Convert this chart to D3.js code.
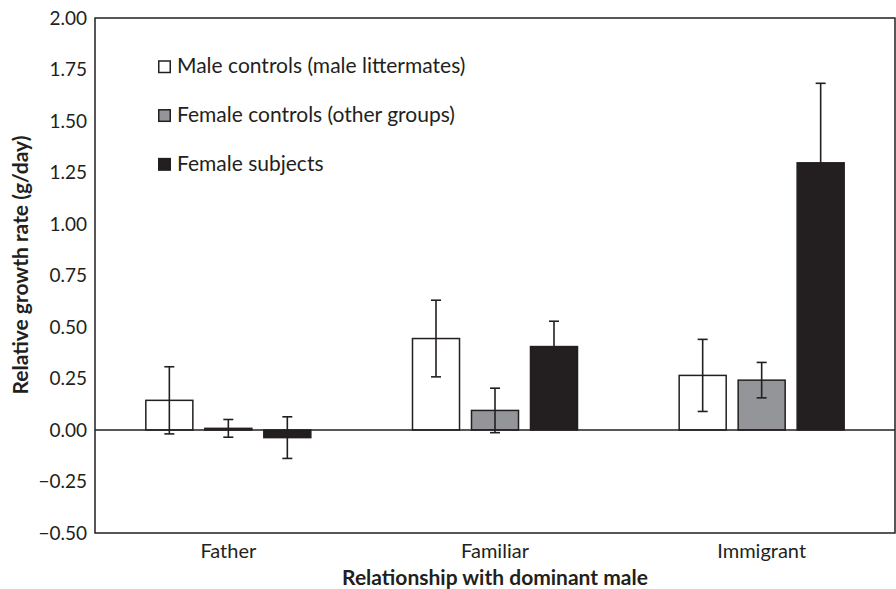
<!DOCTYPE html>
<html lang="en">
	<head>
		<meta charset="utf-8">
		<title>Relative growth rate</title>
		<style type="text/css">
			body { margin: 0; background: #fff; }
			text { font-family: Lato, "Open Sans", sans-serif; fill: #231f20; }
		</style>
	</head>
	<body>
		<script src="https://d3js.org/d3.v7.min.js"></script>
		<script>
			//Width and height
			var w = 896;
			var h = 589;
			var margin = { top: 18, right: 1, bottom: 56, left: 95 };

			var categories = ["Father", "Familiar", "Immigrant"];
			var series = ["Male controls (male littermates)", "Female controls (other groups)", "Female subjects"];
			var fills = ["#ffffff", "#939598", "#231f20"];

			//means and standard errors, one array per series
			var maleControls = [0.144, 0.444, 0.265];
			var maleControlsErr = [0.163, 0.186, 0.175];
			var femaleControls = [0.008, 0.095, 0.242];
			var femaleControlsErr = [0.043, 0.108, 0.086];
			var femaleSubjects = [-0.037, 0.405, 1.297];
			var femaleSubjectsErr = [0.101, 0.123, 0.386];

			var yTicks = [-0.5, -0.25, 0, 0.25, 0.5, 0.75, 1, 1.25, 1.5, 1.75, 2];

			var values = [maleControls, femaleControls, femaleSubjects];
			var errors = [maleControlsErr, femaleControlsErr, femaleSubjectsErr];

			var bars = [];
			categories.forEach(function(c, i) {
				series.forEach(function(s, j) {
					bars.push({ cat: c, s: j, v: values[j][i], e: errors[j][i] });
				});
			});

			var xScale = d3.scaleBand()
							.domain(categories)
							.range([margin.left, w - margin.right]);
			var groupW = 165;
			var xSub = d3.scaleBand()
							.domain(d3.range(series.length))
							.range([0, groupW])
							.paddingInner(0.203);
			var yScale = d3.scaleLinear()
							.domain([-0.5, 2])
							.range([h - margin.bottom, margin.top]);

			var svg = d3.select("body")
						.append("svg")
						.attr("width", w)
						.attr("height", h);

			function barX(d) {
				return xScale(d.cat) + (xScale.bandwidth() - groupW) / 2 + xSub(d.s);
			}

			//Bars
			svg.selectAll("rect.bar")
			   .data(bars)
			   .enter()
			   .append("rect")
			   .attr("class", "bar")
			   .attr("x", barX)
			   .attr("y", function(d) { return yScale(Math.max(0, d.v)); })
			   .attr("width", xSub.bandwidth())
			   .attr("height", function(d) { return Math.abs(yScale(d.v) - yScale(0)); })
			   .attr("fill", function(d) { return fills[d.s]; })
			   .attr("stroke", "#231f20")
			   .attr("stroke-width", 1.5);

			//Zero line
			svg.append("line")
			   .attr("x1", margin.left).attr("x2", w - margin.right)
			   .attr("y1", yScale(0)).attr("y2", yScale(0))
			   .attr("stroke", "#231f20")
			   .attr("stroke-width", 1.5);

			//Error bars
			var err = svg.selectAll("g.err")
			   .data(bars)
			   .enter()
			   .append("g")
			   .attr("class", "err")
			   .attr("stroke", "#231f20")
			   .attr("stroke-width", 1.6);
			err.append("line")
			   .attr("x1", function(d) { return barX(d) + xSub.bandwidth() / 2; })
			   .attr("x2", function(d) { return barX(d) + xSub.bandwidth() / 2; })
			   .attr("y1", function(d) { return yScale(d.v + d.e); })
			   .attr("y2", function(d) { return yScale(d.v - d.e); });
			[1, -1].forEach(function(sign) {
				err.append("line")
				   .attr("x1", function(d) { return barX(d) + xSub.bandwidth() / 2 - 5; })
				   .attr("x2", function(d) { return barX(d) + xSub.bandwidth() / 2 + 5; })
				   .attr("y1", function(d) { return yScale(d.v + sign * d.e); })
				   .attr("y2", function(d) { return yScale(d.v + sign * d.e); });
			});

			//Frame
			svg.append("rect")
			   .attr("x", margin.left)
			   .attr("y", margin.top)
			   .attr("width", w - margin.right - margin.left)
			   .attr("height", h - margin.bottom - margin.top)
			   .attr("fill", "none")
			   .attr("stroke", "#231f20")
			   .attr("stroke-width", 1.5);

			//Y axis labels
			var yAxis = d3.axisLeft(yScale)
						  .tickValues(yTicks)
						  .tickSize(0)
						  .tickPadding(8)
						  .tickFormat(function(d) { return d3.format(".2f")(d).replace("-", "\u2212"); });
			var gy = svg.append("g")
						.attr("transform", "translate(" + margin.left + ",0)")
						.call(yAxis);
			gy.select(".domain").remove();
			gy.selectAll("text")
			  .attr("font-family", "Lato")
			  .attr("font-size", "19px")
			  .attr("fill", "#231f20");

			//X axis labels
			var xAxis = d3.axisBottom(xScale).tickSize(0).tickPadding(11);
			var gx = svg.append("g")
						.attr("transform", "translate(0," + (h - margin.bottom) + ")")
						.call(xAxis);
			gx.select(".domain").remove();
			gx.selectAll("text")
			  .attr("font-family", "Lato")
			  .attr("font-size", "20px")
			  .attr("fill", "#231f20");

			//Axis titles
			svg.append("text")
			   .attr("x", (margin.left + w - margin.right) / 2)
			   .attr("y", 585)
			   .attr("text-anchor", "middle")
			   .attr("font-size", "21px")
			   .attr("font-weight", "bold")
			   .text("Relationship with dominant male");
			svg.append("text")
			   .attr("transform", "translate(28,265) rotate(-90)")
			   .attr("text-anchor", "middle")
			   .attr("font-size", "21px")
			   .attr("font-weight", "bold")
			   .text("Relative growth rate (g/day)");

			//Legend
			var legend = svg.selectAll("g.legend")
			   .data(series)
			   .enter()
			   .append("g")
			   .attr("class", "legend")
			   .attr("transform", function(d, i) { return "translate(158," + (73 + i * 48.8) + ")"; });
			legend.append("rect")
			   .attr("x", 0.75).attr("y", -12)
			   .attr("width", 11.5).attr("height", 11.5)
			   .attr("fill", function(d, i) { return fills[i]; })
			   .attr("stroke", "#231f20")
			   .attr("stroke-width", 1.5);
			legend.append("text")
			   .attr("x", 19)
			   .attr("y", 0)
			   .attr("font-size", "21px")
			   .text(function(d) { return d; });
		</script>
	</body>
</html>
